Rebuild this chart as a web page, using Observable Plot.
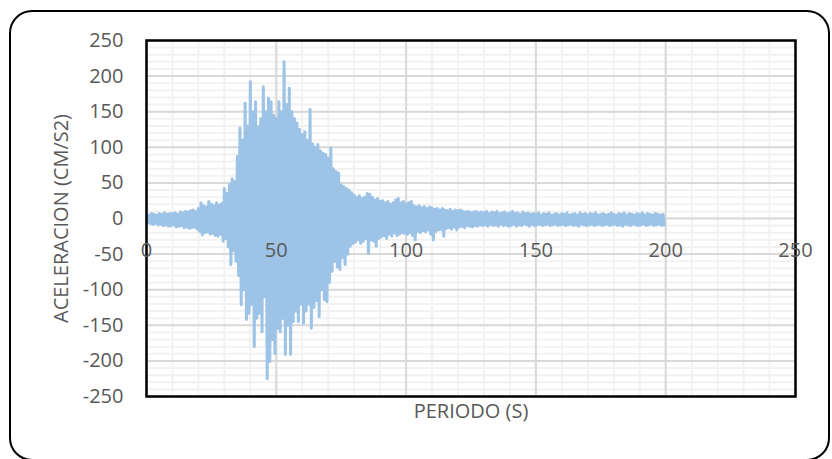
<!DOCTYPE html>
<html><head><meta charset="utf-8">
<script src="https://cdn.jsdelivr.net/npm/d3@7"></script>
<script src="https://cdn.jsdelivr.net/npm/@observablehq/plot@0.6"></script>
<style>
body{margin:0;background:#fff;}
#wrap{position:relative;width:832px;height:459px;overflow:hidden;background:#fff;}
#border{position:absolute;left:9px;top:10px;width:817px;height:447px;border:2.5px solid #000;border-radius:23px;}
#chart{position:absolute;left:0;top:0;}
</style></head>
<body><div id="wrap"><div id="border"></div><div id="chart"></div></div>
<script>
// Time in seconds: one positive peak (at t) and one negative trough (at t+0.5) per second
const peaks = [
  6,5,7,6,5,7,6,8,6,7,
  7,8,6,9,8,10,9,11,12,10,
  14,22,18,16,24,20,18,22,19,21,
  42,35,48,56,52,87,127,110,162,130,
  192,150,164,129,140,185,150,169,164,145,
  140,164,150,220,160,183,150,140,134,125,
  118,122,110,153,105,100,104,95,92,90,
  85,99,70,66,64,47,45,42,40,36,
  33,30,32,28,30,35,34,30,26,28,
  24,25,22,24,20,22,26,28,22,24,
  20,22,24,18,16,18,15,17,14,16,
  15,13,14,12,14,12,11,13,10,12,
  11,12,10,9,10,8,9,10,8,9,
  8,10,7,9,8,10,7,8,9,7,
  8,10,7,8,6,9,7,8,6,7,
  6,8,5,7,6,8,5,6,7,5,
  7,6,8,5,6,7,5,8,6,7,
  5,7,6,8,5,6,7,5,6,8,
  6,5,7,6,8,5,7,6,5,7,
  6,8,5,7,6,5,7,6,5,6
];
const troughs = [
  -6,-7,-8,-7,-9,-8,-10,-9,-11,-10,
  -9,-12,-11,-10,-13,-12,-14,-13,-12,-15,
  -18,-23,-20,-19,-22,-21,-24,-25,-22,-32,
  -28,-40,-65,-45,-60,-80,-121,-100,-142,-133,
  -120,-180,-140,-133,-159,-110,-225,-201,-170,-190,
  -154,-159,-140,-191,-150,-191,-145,-130,-145,-120,
  -147,-130,-120,-154,-125,-115,-138,-100,-114,-117,
  -90,-74,-60,-68,-72,-55,-65,-50,-39,-35,
  -33,-30,-35,-32,-28,-49,-30,-32,-39,-28,
  -26,-24,-28,-22,-25,-20,-24,-22,-20,-21,
  -22,-20,-24,-30,-18,-20,-17,-19,-16,-22,
  -30,-18,-16,-15,-25,-14,-13,-15,-12,-16,
  -12,-11,-13,-10,-11,-12,-10,-11,-9,-10,
  -9,-11,-8,-10,-9,-11,-8,-10,-9,-11,
  -10,-8,-11,-9,-10,-8,-9,-11,-8,-10,
  -9,-8,-10,-9,-8,-10,-9,-8,-10,-9,
  -8,-10,-9,-8,-10,-9,-11,-8,-9,-10,
  -9,-8,-10,-9,-8,-10,-9,-8,-10,-9,
  -8,-10,-9,-11,-8,-9,-10,-8,-9,-10,
  -9,-8,-10,-9,-8,-10,-9,-8,-10,-9
];
const xTicks = [0, 50, 100, 150, 200, 250];
const yTicks = [-250, -200, -150, -100, -50, 0, 50, 100, 150, 200, 250];
const xTitle = "PERIODO (S)";
const yTitle = "ACELERACION (CM/S2)";

const series = peaks.flatMap((p, i) => [{t: i, a: p}, {t: i + 0.5, a: troughs[i]}]);
const xMinor = d3.range(0, 251, 10);
const yMinor = d3.range(-250, 251, 10);
const textColor = "#595959";

const chart = Plot.plot({
  width: 832, height: 459,
  marginLeft: 146, marginRight: 37, marginTop: 40, marginBottom: 63,
  x: {domain: [0, 250]},
  y: {domain: [-250, 250]},
  style: {fontFamily: "'Open Sans', sans-serif", fontSize: "20px", color: textColor, background: "transparent", overflow: "visible"},
  marks: [
    Plot.ruleX(xMinor, {stroke: "#f2f2f2", strokeWidth: 2}),
    Plot.ruleY(yMinor, {stroke: "#f2f2f2", strokeWidth: 2}),
    Plot.ruleX(xTicks, {stroke: "#d9d9d9", strokeWidth: 2}),
    Plot.ruleY(yTicks, {stroke: "#d9d9d9", strokeWidth: 2}),
    Plot.line(series, {x: "t", y: "a", stroke: "#9dc3e6", strokeWidth: 3}),
    Plot.frame({stroke: "#000", strokeWidth: 2.5}),
    Plot.axisY(yTicks, {tickSize: 0, tickPadding: 23, label: null, tickFormat: d => String(d), fill: textColor}),
    Plot.axisX({ticks: [], label: null}),
    Plot.text(xTicks, {x: d => d, y: () => 0, dy: 32, text: d => String(d), fill: textColor}),
    Plot.text([xTitle], {frameAnchor: "bottom", dy: 21, text: d => d, fill: textColor}),
    Plot.text([yTitle], {frameAnchor: "left", textAnchor: "middle", dx: -85, rotate: -90, text: d => d, fill: textColor})
  ]
});
document.getElementById("chart").appendChild(chart);
</script>
</body></html>
